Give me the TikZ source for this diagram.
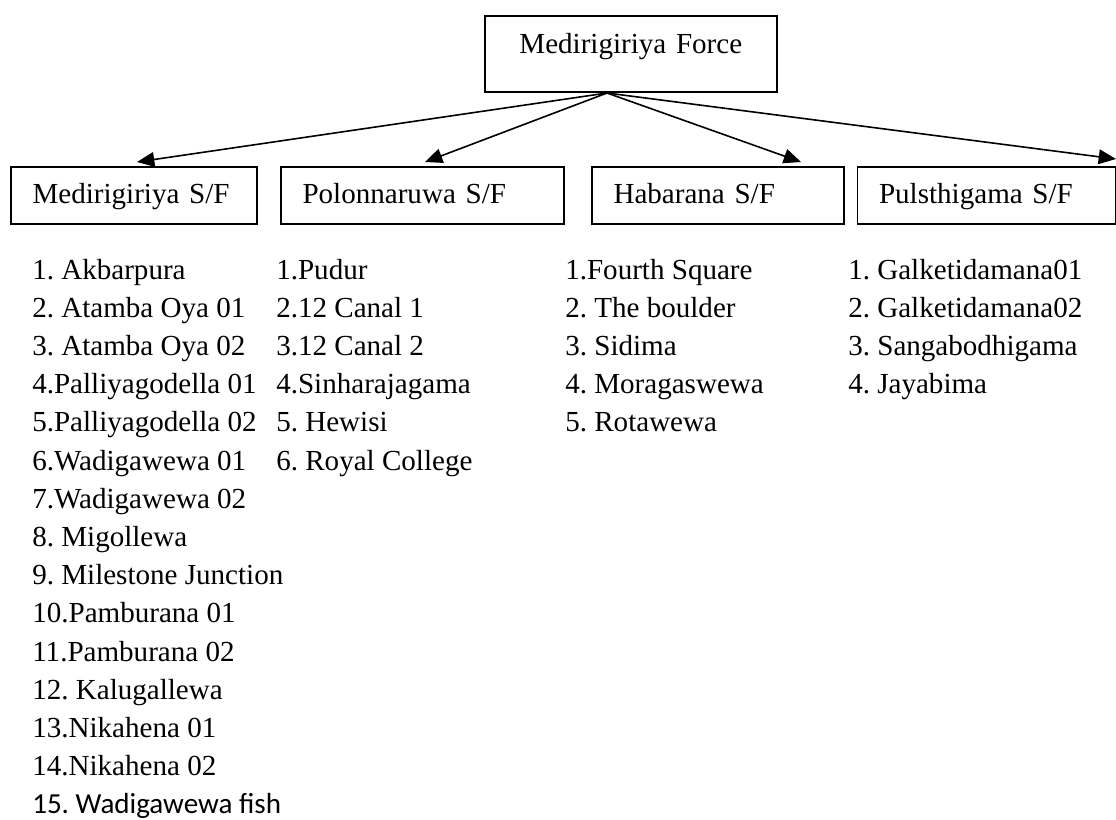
\documentclass[tikz,border=0pt]{standalone}
\usepackage{fontspec}
\setmainfont{Liberation Serif}
\newfontfamily\calibrifont{Carlito}
\usetikzlibrary{arrows.meta}
\frenchspacing
\begin{document}
\begin{tikzpicture}[x=0.75pt,y=-0.75pt,
  lbl/.style={font=\fontsize{21.8}{26}\selectfont},
  box/.style={draw, line width=1.2pt, lbl, inner ysep=0pt, inner xsep=16.3pt,
    align=left, anchor=north west, text height=27.75pt, text depth=15pt},
  topbox/.style={draw, line width=1.2pt, lbl, inner sep=0pt, align=center,
    anchor=north west, text width=219pt, text height=28.3pt, text depth=28.7pt},
  item/.style={lbl, anchor=base west, inner sep=0pt},
  arr/.style={line width=1.2pt, -{Triangle[length=13pt,width=11pt]}}]
\useasboundingbox (0,0) rectangle (1116,819);
% top box
\node[topbox] (force) at (484,15) {Medirigiriya Force};
% station boxes
\node[box, text width=151.9pt] (b1) at (10,166) {Medirigiriya S/F};
\node[box, text width=179.65pt] (b2) at (280,166) {Polonnaruwa S/F};
\node[box, text width=156.4pt] (b3) at (591,166) {Habarana S/F};
\node[box, text width=161.3pt] (b4) at (856.5,166) {Pulsthigama S/F};
% connectors
\coordinate (apex) at (607,93);
\coordinate (t1) at (137,162);
\coordinate (t2) at (425,162);
\coordinate (t3) at (801,162);
\coordinate (t4) at (1116,159);
\foreach \k in {1,2,3,4} \draw[arr] (apex) -- (t\k);
% lists
\foreach \t [count=\i] in {1. Akbarpura, 2. Atamba Oya 01, 3. Atamba Oya 02,
  4.Palliyagodella 01, 5.Palliyagodella 02, 6.Wadigawewa 01, 7.Wadigawewa 02,
  8. Migollewa, 9. Milestone Junction, 10.Pamburana 01, 11.Pamburana 02,
  12. Kalugallewa, 13.Nikahena 01, 14.Nikahena 02, {\calibrifont 15. Wadigawewa fish}}
  \node[item] (a\i) at (32,{279+38.2*(\i-1)}) {\t};
\foreach \t [count=\i] in {1.Pudur, 2.12 Canal 1, 3.12 Canal 2, 4.Sinharajagama,
  5. Hewisi, 6. Royal College}
  \node[item] (p\i) at (276,{279+38.2*(\i-1)}) {\t};
\foreach \t [count=\i] in {1.Fourth Square, 2. The boulder, 3. Sidima,
  4. Moragaswewa, 5. Rotawewa}
  \node[item] (h\i) at (565,{279+38.2*(\i-1)}) {\t};
\foreach \t [count=\i] in {1. Galketidamana01, 2. Galketidamana02,
  3. Sangabodhigama, 4. Jayabima}
  \node[item] (g\i) at (848,{279+38.2*(\i-1)}) {\t};
\end{tikzpicture}
\end{document}
